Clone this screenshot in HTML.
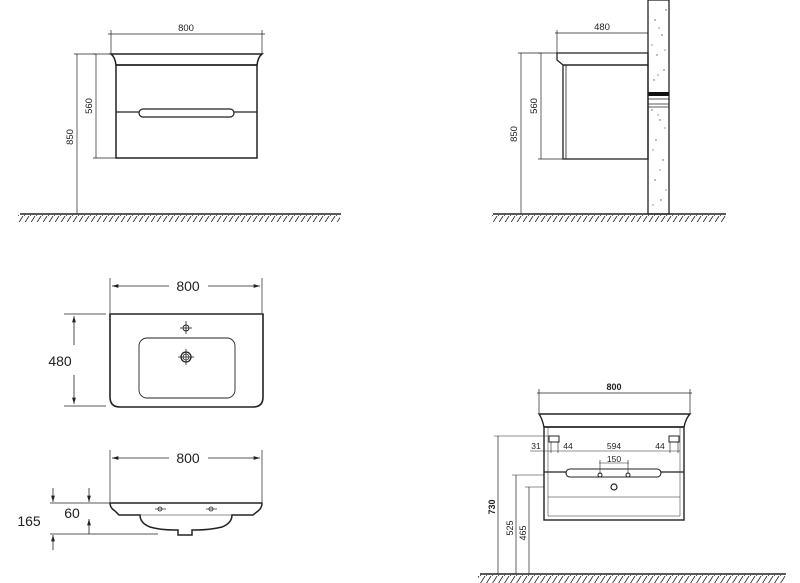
<!DOCTYPE html>
<html><head><meta charset="utf-8"><style>html,body{margin:0;padding:0;background:#fff}svg{display:block}</style></head>
<body>
<svg width="800" height="583" viewBox="0 0 800 583" xmlns="http://www.w3.org/2000/svg" font-family="Liberation Sans, sans-serif">
<defs>
<pattern id="hatch" width="6" height="8" patternUnits="userSpaceOnUse">
<line x1="5" y1="0" x2="0" y2="8" stroke="#222" stroke-width="0.8"/>
</pattern>
<marker id="ar" viewBox="0 0 10 10" refX="10" refY="5" markerWidth="8" markerHeight="8" orient="auto-start-reverse"><path d="M0,2 L10,5 L0,8 z" fill="#222"/></marker>
</defs>
<g stroke="#222" fill="none">
<line x1="111" y1="30" x2="111" y2="54" stroke-width="0.7"/>
<line x1="262" y1="30" x2="262" y2="54" stroke-width="0.7"/>
<line x1="108" y1="34" x2="265" y2="34" stroke-width="0.7"/>
<path d="M111,54 H262 Q258,57 257,65 H116 Q115,57 111,54 Z" stroke-width="1.5"/>
<rect x="116" y="65" width="141" height="93" stroke-width="1.5"/>
<line x1="116" y1="112" x2="257" y2="112" stroke-width="1.2"/>
<rect x="139" y="109" width="95" height="8" rx="4" fill="#fff" stroke-width="1.2"/>
<line x1="96" y1="54" x2="96" y2="158" stroke-width="0.7"/>
<line x1="93" y1="54" x2="111" y2="54" stroke-width="0.7"/>
<line x1="93" y1="158" x2="116" y2="158" stroke-width="0.7"/>
<line x1="77" y1="54" x2="77" y2="214" stroke-width="0.7"/>
<line x1="74" y1="54" x2="96" y2="54" stroke-width="0.7"/>
<line x1="20" y1="214" x2="341" y2="214" stroke-width="1.5"/>
<rect x="18" y="215" width="322" height="7" fill="url(#hatch)" stroke="none"/>
<rect x="648" y="0" width="21" height="214" stroke-width="1.3"/>
<rect x="648" y="92" width="21" height="4" fill="#111" stroke="none"/>
<line x1="648" y1="99" x2="669" y2="99" stroke-width="0.7"/>
<line x1="648" y1="104" x2="669" y2="104" stroke-width="0.7"/>
<line x1="648" y1="107" x2="669" y2="107" stroke-width="0.7"/>
<path d="M557,53 H648 V65 H563 L557,60 Z" stroke-width="1.3"/>
<rect x="563" y="65" width="85" height="94" stroke-width="1.3"/>
<line x1="566" y1="65" x2="566" y2="159" stroke-width="0.8"/>
<line x1="557" y1="30" x2="557" y2="53" stroke-width="0.7"/>
<line x1="555" y1="33" x2="648" y2="33" stroke-width="0.7"/>
<line x1="541" y1="53" x2="541" y2="159" stroke-width="0.7"/>
<line x1="538" y1="53" x2="557" y2="53" stroke-width="0.7"/>
<line x1="538" y1="159" x2="563" y2="159" stroke-width="0.7"/>
<line x1="521" y1="53" x2="521" y2="214" stroke-width="0.7"/>
<line x1="518" y1="53" x2="541" y2="53" stroke-width="0.7"/>
<line x1="493" y1="214" x2="726" y2="214" stroke-width="1.5"/>
<rect x="491" y="215" width="235" height="7" fill="url(#hatch)" stroke="none"/>
<line x1="110" y1="278" x2="110" y2="313" stroke-width="0.7"/>
<line x1="262" y1="278" x2="262" y2="313" stroke-width="0.7"/>
<line x1="112" y1="286" x2="169" y2="286" stroke-width="0.8" marker-start="url(#ar)"/>
<line x1="208" y1="286" x2="260" y2="286" stroke-width="0.8" marker-end="url(#ar)"/>
<path d="M110,314 H263 V397 Q263,407 253,407 H120 Q110,407 110,397 Z" stroke-width="1.6"/>
<rect x="139" y="338" width="96" height="60" rx="8" stroke-width="0.9"/>
<circle cx="186" cy="328" r="3" stroke-width="0.9"/>
<line x1="180" y1="328" x2="192" y2="328" stroke-width="0.8"/>
<line x1="186" y1="321" x2="186" y2="334" stroke-width="0.8"/>
<circle cx="186" cy="357" r="5" stroke-width="1.3"/>
<circle cx="186" cy="357" r="3" stroke-width="0.8"/>
<line x1="178" y1="357" x2="194" y2="357" stroke-width="0.8"/>
<line x1="186" y1="349" x2="186" y2="365" stroke-width="0.8"/>
<line x1="64" y1="314" x2="106" y2="314" stroke-width="0.7"/>
<line x1="64" y1="406" x2="106" y2="406" stroke-width="0.7"/>
<line x1="74" y1="316" x2="74" y2="345" stroke-width="0.8" marker-start="url(#ar)"/>
<line x1="74" y1="375" x2="74" y2="404" stroke-width="0.8" marker-end="url(#ar)"/>
<line x1="110" y1="450" x2="110" y2="502" stroke-width="0.7"/>
<line x1="262" y1="450" x2="262" y2="502" stroke-width="0.7"/>
<line x1="112" y1="458" x2="169" y2="458" stroke-width="0.8" marker-start="url(#ar)"/>
<line x1="208" y1="458" x2="260" y2="458" stroke-width="0.8" marker-end="url(#ar)"/>
<path d="M110,503 H262 Q262,508 258,511 L253,515 H232 Q232,523 222,527 Q210,530 195,530 H192 V535 H178 V530 H175 Q160,530 150,527 Q140,523 140,515 H119 L115,511 Q110,508 110,503 Z" stroke-width="1.5"/>
<line x1="120" y1="515" x2="250" y2="515" stroke-width="0.6"/>
<circle cx="160" cy="509" r="2" stroke-width="0.8"/><line x1="155" y1="509" x2="166" y2="509" stroke-width="0.7"/>
<circle cx="211" cy="509" r="2" stroke-width="0.8"/><line x1="206" y1="509" x2="217" y2="509" stroke-width="0.7"/>
<line x1="50" y1="503" x2="110" y2="503" stroke-width="0.7"/>
<line x1="50" y1="534" x2="158" y2="534" stroke-width="0.7"/>
<line x1="53" y1="488" x2="53" y2="502" stroke-width="0.8" marker-end="url(#ar)"/>
<line x1="53" y1="550" x2="53" y2="535" stroke-width="0.8" marker-end="url(#ar)"/>
<line x1="89" y1="488" x2="89" y2="502" stroke-width="0.8" marker-end="url(#ar)"/>
<line x1="89" y1="534" x2="89" y2="519" stroke-width="0.8" marker-end="url(#ar)"/>
<line x1="539" y1="389" x2="539" y2="413" stroke-width="0.7"/>
<line x1="690" y1="389" x2="690" y2="413" stroke-width="0.7"/>
<line x1="537" y1="393" x2="692" y2="393" stroke-width="0.7"/>
<path d="M539,414 H690 Q686,418 684,427 H544 Q542,418 539,414 Z" stroke-width="1.4"/>
<rect x="544" y="427" width="140" height="93" stroke-width="1.4"/>
<line x1="548" y1="427" x2="548" y2="516" stroke-width="0.5"/>
<line x1="680" y1="427" x2="680" y2="516" stroke-width="0.5"/>
<line x1="548" y1="497" x2="680" y2="497" stroke-width="0.5"/>
<line x1="548" y1="516" x2="680" y2="516" stroke-width="0.5"/>
<line x1="544" y1="472" x2="684" y2="472" stroke-width="1.3"/>
<rect x="566" y="469" width="95" height="8" rx="4" fill="#fff" stroke-width="1.1"/>
<circle cx="600" cy="475" r="2" stroke-width="1"/>
<circle cx="628" cy="475" r="2" stroke-width="1"/>
<circle cx="614" cy="487" r="3" stroke-width="1.2"/>
<rect x="549" y="436" width="10" height="6" stroke-width="1"/>
<rect x="669" y="436" width="10" height="6" stroke-width="1"/>
<line x1="530" y1="451" x2="680" y2="451" stroke-width="0.6"/>
<line x1="551" y1="442" x2="551" y2="453" stroke-width="0.6"/>
<line x1="558" y1="442" x2="558" y2="453" stroke-width="0.6"/>
<line x1="670" y1="442" x2="670" y2="453" stroke-width="0.6"/>
<line x1="678" y1="442" x2="678" y2="453" stroke-width="0.6"/>
<line x1="600" y1="460" x2="600" y2="474" stroke-width="0.6"/>
<line x1="628" y1="460" x2="628" y2="474" stroke-width="0.6"/>
<line x1="599" y1="463" x2="629" y2="463" stroke-width="0.6"/>
<line x1="494" y1="436" x2="549" y2="436" stroke-width="0.6"/>
<line x1="512" y1="475" x2="544" y2="475" stroke-width="0.6"/>
<line x1="525" y1="487" x2="544" y2="487" stroke-width="0.6"/>
<line x1="498" y1="436" x2="498" y2="574" stroke-width="0.7"/>
<line x1="516" y1="475" x2="516" y2="574" stroke-width="0.7"/>
<line x1="529" y1="487" x2="529" y2="574" stroke-width="0.7"/>
<line x1="480" y1="574" x2="786" y2="574" stroke-width="1.5"/>
<rect x="478" y="575" width="308" height="8" fill="url(#hatch)" stroke="none"/>
</g>
<g fill="#555">
<circle cx="655" cy="20" r="0.7"/><circle cx="662" cy="35" r="0.7"/><circle cx="657" cy="55" r="0.7"/><circle cx="664" cy="70" r="0.7"/><circle cx="654" cy="80" r="0.7"/><circle cx="660" cy="120" r="0.7"/><circle cx="656" cy="140" r="0.7"/><circle cx="663" cy="160" r="0.7"/><circle cx="655" cy="180" r="0.7"/><circle cx="661" cy="200" r="0.7"/><circle cx="666" cy="10" r="0.7"/><circle cx="652" cy="110" r="0.7"/>
<circle cx="659" cy="28" r="0.6"/><circle cx="652" cy="45" r="0.6"/><circle cx="665" cy="50" r="0.6"/><circle cx="658" cy="75" r="0.6"/><circle cx="665" cy="128" r="0.6"/><circle cx="653" cy="150" r="0.6"/><circle cx="660" cy="170" r="0.6"/><circle cx="666" cy="190" r="0.6"/><circle cx="653" cy="205" r="0.6"/><circle cx="658" cy="115" r="0.6"/>
</g>
<g fill="#222">
<text x="186" y="31" font-size="9.5" text-anchor="middle">800</text>
<text transform="translate(92,106) rotate(-90)" font-size="9.5" text-anchor="middle">560</text>
<text transform="translate(73,137) rotate(-90)" font-size="9.5" text-anchor="middle">850</text>
<text x="602" y="30" font-size="9.5" text-anchor="middle">480</text>
<text transform="translate(537,106) rotate(-90)" font-size="9.5" text-anchor="middle">560</text>
<text transform="translate(517,134) rotate(-90)" font-size="9.5" text-anchor="middle">850</text>
<text x="188" y="291" font-size="14" text-anchor="middle">800</text>
<text x="60" y="366" font-size="14" text-anchor="middle">480</text>
<text x="188" y="463" font-size="14" text-anchor="middle">800</text>
<text x="29" y="526" font-size="14" text-anchor="middle">165</text>
<text x="72" y="518" font-size="14" text-anchor="middle">60</text>
<text x="614" y="390" font-size="9" text-anchor="middle" font-weight="bold">800</text>
<text x="536" y="449" font-size="8.5" text-anchor="middle">31</text>
<text x="568" y="449" font-size="8.5" text-anchor="middle">44</text>
<text x="614" y="449" font-size="8.5" text-anchor="middle">594</text>
<text x="660" y="449" font-size="8.5" text-anchor="middle">44</text>
<text x="614" y="462" font-size="8.5" text-anchor="middle">150</text>
<text transform="translate(495,507) rotate(-90)" font-size="9" text-anchor="middle" font-weight="bold">730</text>
<text transform="translate(513,528) rotate(-90)" font-size="9" text-anchor="middle">525</text>
<text transform="translate(526,533) rotate(-90)" font-size="9" text-anchor="middle">465</text>
</g>
</svg>
</body></html>
